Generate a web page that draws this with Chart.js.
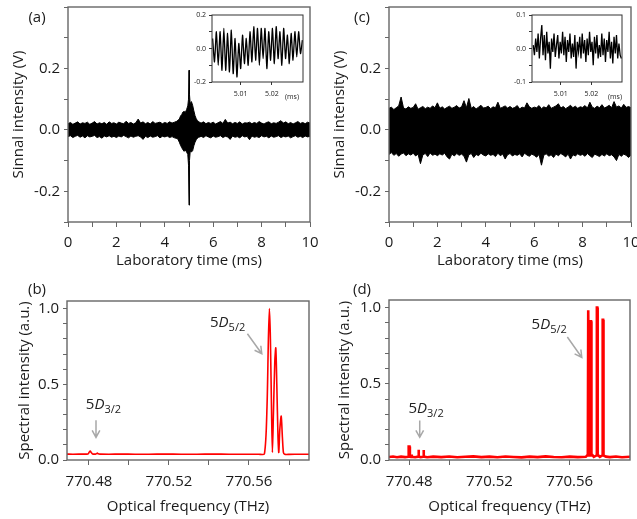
<!DOCTYPE html>
<html lang="en">
<head>
<meta charset="UTF-8">
<title>Signal and spectra</title>
<script src="https://cdn.jsdelivr.net/npm/chart.js"></script>
<style>
    body { margin: 0; background: #fff; }
    #wrap { position: relative; width: 637px; height: 519px; overflow: hidden; }
    #wrap canvas { position: absolute; }
</style>
</head>
<body>
<div id="wrap">
    <canvas id="chartA" width="318" height="280" style="left:0;top:0"></canvas>
    <canvas id="chartC" width="319" height="280" style="left:318px;top:0"></canvas>
    <canvas id="chartB" width="318" height="259" style="left:0;top:260px"></canvas>
    <canvas id="chartD" width="319" height="259" style="left:318px;top:260px"></canvas>
    <canvas id="insetA" width="127" height="100" style="left:185px;top:6px"></canvas>
    <canvas id="insetC" width="127" height="100" style="left:505px;top:6px"></canvas>
</div>

<script>
// ---------- data ----------

// (a) signal envelope, laboratory time in ms
const timeA = [0.0,0.1,0.2,0.3,0.4,0.5,0.6,0.7,0.8,0.9,
    1.0,1.1,1.2,1.3,1.4,1.5,1.6,1.7,1.8,1.9,
    2.0,2.1,2.2,2.3,2.4,2.5,2.6,2.7,2.8,2.9,
    3.0,3.1,3.2,3.3,3.4,3.5,3.6,3.7,3.8,3.9,
    4.0,4.1,4.2,4.3,4.4,4.5,
    4.55,4.6,4.65,4.7,4.75,4.8,4.85,4.9,4.95,4.98,5.0,5.02,5.05,5.1,5.15,5.2,5.25,5.3,5.35,5.4,5.45,
    5.5,5.6,5.7,5.8,5.9,
    6.0,6.1,6.2,6.3,6.4,6.5,6.6,6.7,6.8,6.9,
    7.0,7.1,7.2,7.3,7.4,7.5,7.6,7.7,7.8,7.9,
    8.0,8.1,8.2,8.3,8.4,8.5,8.6,8.7,8.8,8.9,
    9.0,9.1,9.2,9.3,9.4,9.5,9.6,9.7,9.8,9.9,
    10.0];
const upA = [0.020,0.024,0.018,0.022,0.026,0.019,0.023,0.021,0.025,0.018,
    0.022,0.027,0.019,0.023,0.020,0.024,0.018,0.026,0.021,0.023,
    0.019,0.025,0.022,0.020,0.028,0.021,0.024,0.019,0.023,0.035,
    0.022,0.026,0.020,0.024,0.019,0.027,0.021,0.023,0.025,0.020,
    0.024,0.021,0.026,0.022,0.025,0.028,
    0.032,0.035,0.045,0.050,0.058,0.060,0.057,0.066,0.078,0.100,0.194,0.115,0.085,0.092,0.080,0.062,0.046,0.036,0.030,0.027,0.024,
    0.022,0.026,0.020,0.024,0.021,
    0.025,0.019,0.023,0.027,0.021,0.034,0.022,0.025,0.020,0.024,
    0.021,0.026,0.019,0.023,0.022,0.025,0.020,0.024,0.021,0.027,
    0.022,0.019,0.024,0.026,0.020,0.023,0.021,0.025,0.030,0.022,
    0.026,0.020,0.024,0.019,0.023,0.027,0.021,0.024,0.020,0.025,
    0.022];
const loA = [-0.022,-0.019,-0.025,-0.021,-0.018,-0.024,-0.020,-0.026,-0.019,-0.023,
    -0.021,-0.018,-0.025,-0.022,-0.027,-0.020,-0.023,-0.019,-0.024,-0.021,
    -0.025,-0.020,-0.023,-0.018,-0.022,-0.026,-0.020,-0.024,-0.021,-0.019,
    -0.023,-0.031,-0.021,-0.025,-0.020,-0.024,-0.022,-0.019,-0.026,-0.021,
    -0.023,-0.020,-0.025,-0.022,-0.026,-0.028,
    -0.032,-0.040,-0.050,-0.058,-0.065,-0.070,-0.066,-0.072,-0.080,-0.115,-0.245,-0.100,-0.070,-0.072,-0.068,-0.052,-0.040,-0.032,-0.027,-0.024,-0.023,
    -0.021,-0.025,-0.019,-0.023,-0.026,
    -0.020,-0.024,-0.022,-0.019,-0.025,-0.021,-0.023,-0.031,-0.020,-0.024,
    -0.022,-0.026,-0.019,-0.023,-0.021,-0.032,-0.020,-0.024,-0.022,-0.025,
    -0.019,-0.023,-0.021,-0.026,-0.020,-0.024,-0.022,-0.019,-0.025,-0.021,
    -0.023,-0.020,-0.026,-0.022,-0.019,-0.024,-0.021,-0.025,-0.020,-0.023,
    -0.021];

// (c) signal envelope
const timeC = [0.0,0.1,0.2,0.3,0.4,0.5,0.6,0.7,0.8,0.9,
    1.0,1.1,1.2,1.3,1.4,1.5,1.6,1.7,1.8,1.9,
    2.0,2.1,2.2,2.3,2.4,2.5,2.6,2.7,2.8,2.9,
    3.0,3.1,3.2,3.3,3.4,3.5,3.6,3.7,3.8,3.9,
    4.0,4.1,4.2,4.3,4.4,4.5,4.6,4.7,4.8,4.9,
    5.0,5.1,5.2,5.3,5.4,5.5,5.6,5.7,5.8,5.9,
    6.0,6.1,6.2,6.3,6.4,6.5,6.6,6.7,6.8,6.9,
    7.0,7.1,7.2,7.3,7.4,7.5,7.6,7.7,7.8,7.9,
    8.0,8.1,8.2,8.3,8.4,8.5,8.6,8.7,8.8,8.9,
    9.0,9.1,9.2,9.3,9.4,9.5,9.6,9.7,9.8,9.9,
    10.0];
const upC = [0.070,0.074,0.066,0.072,0.078,0.107,0.071,0.068,0.075,0.070,
    0.073,0.085,0.067,0.072,0.076,0.069,0.074,0.070,0.078,0.072,
    0.088,0.070,0.075,0.068,0.073,0.077,0.070,0.074,0.079,0.071,
    0.075,0.095,0.072,0.102,0.070,0.076,0.068,0.074,0.080,0.071,
    0.073,0.077,0.069,0.075,0.072,0.090,0.070,0.074,0.078,0.071,
    0.076,0.070,0.073,0.079,0.068,0.074,0.071,0.088,0.075,0.070,
    0.074,0.072,0.079,0.069,0.075,0.071,0.082,0.070,0.074,0.078,
    0.085,0.071,0.076,0.069,0.074,0.080,0.072,0.077,0.070,0.075,
    0.073,0.079,0.071,0.090,0.074,0.070,0.077,0.072,0.082,0.071,
    0.075,0.080,0.072,0.092,0.074,0.078,0.071,0.083,0.073,0.076,
    0.072];
const loC = [-0.080,-0.074,-0.083,-0.077,-0.086,-0.079,-0.075,-0.084,-0.078,-0.082,
    -0.076,-0.085,-0.079,-0.110,-0.081,-0.077,-0.087,-0.075,-0.083,-0.079,
    -0.084,-0.078,-0.082,-0.076,-0.088,-0.095,-0.079,-0.085,-0.077,-0.083,
    -0.079,-0.086,-0.105,-0.081,-0.077,-0.090,-0.080,-0.084,-0.076,-0.082,
    -0.085,-0.078,-0.083,-0.080,-0.087,-0.076,-0.084,-0.079,-0.095,-0.081,
    -0.077,-0.085,-0.080,-0.083,-0.078,-0.088,-0.076,-0.082,-0.086,-0.079,
    -0.083,-0.089,-0.080,-0.115,-0.082,-0.078,-0.086,-0.081,-0.090,-0.079,
    -0.084,-0.077,-0.082,-0.088,-0.079,-0.095,-0.081,-0.085,-0.078,-0.083,
    -0.080,-0.086,-0.077,-0.084,-0.090,-0.079,-0.083,-0.087,-0.080,-0.085,
    -0.078,-0.084,-0.081,-0.088,-0.100,-0.080,-0.086,-0.079,-0.083,-0.090,
    -0.082];

// insets: zoom on the trace around 5 ms
const insetTimeA = [5.0010,5.0016,5.0022,5.0028,5.0034,5.0040,5.0046,5.0052,5.0058,5.0064,
    5.0070,5.0076,5.0082,5.0088,5.0094,5.0100,5.0106,5.0112,5.0118,5.0124,
    5.0130,5.0136,5.0142,5.0148,5.0154,5.0160,5.0166,5.0172,5.0178,5.0184,
    5.0190,5.0196,5.0202,5.0208,5.0214,5.0220,5.0226,5.0232,5.0238,5.0244,
    5.0250,5.0256,5.0262,5.0268,5.0274,5.0280,5.0286,5.0292,5.0298];
const insetSigA = [0.06,-0.08,0.10,-0.10,0.10,-0.13,0.12,-0.13,0.09,-0.14,
    0.11,-0.15,0.06,-0.17,0.03,-0.12,0.08,-0.09,0.06,-0.10,
    0.10,-0.08,0.13,-0.07,0.12,-0.10,0.12,-0.06,0.12,-0.12,
    0.10,-0.07,0.12,-0.09,0.13,-0.06,0.10,-0.10,0.12,-0.06,
    0.08,-0.09,0.09,-0.07,0.10,-0.05,0.10,-0.03,0.05];

const insetTimeC = [5.0010,5.0014,5.0018,5.0022,5.0026,5.0030,5.0034,5.0038,5.0042,5.0046,
    5.0050,5.0054,5.0058,5.0062,5.0066,5.0070,5.0074,5.0078,5.0082,5.0086,
    5.0090,5.0094,5.0098,5.0102,5.0106,5.0110,5.0114,5.0118,5.0122,5.0126,
    5.0130,5.0134,5.0138,5.0142,5.0146,5.0150,5.0154,5.0158,5.0162,5.0166,
    5.0170,5.0174,5.0178,5.0182,5.0186,5.0190,5.0194,5.0198,5.0202,5.0206,
    5.0210,5.0214,5.0218,5.0222,5.0226,5.0230,5.0234,5.0238,5.0242,5.0246,
    5.0250,5.0254,5.0258,5.0262,5.0266,5.0270,5.0274,5.0278,5.0282,5.0286,
    5.0290,5.0294,5.0298];
const insetSigC = [0.010,-0.020,0.030,-0.010,0.045,-0.030,0.030,0.070,-0.020,0.040,
    -0.035,0.050,-0.015,0.020,-0.060,0.030,-0.010,0.045,-0.025,0.010,
    0.040,-0.030,0.020,-0.015,0.050,-0.020,0.035,-0.040,0.025,-0.010,
    0.045,-0.030,0.015,-0.025,0.040,-0.060,0.020,-0.010,0.035,-0.030,
    0.045,-0.015,0.025,-0.040,0.030,-0.020,0.050,-0.010,0.020,-0.050,
    0.035,-0.015,0.040,-0.030,0.010,-0.025,0.045,-0.020,0.030,-0.040,
    0.025,-0.010,0.050,-0.030,0.020,-0.045,0.035,-0.015,0.040,-0.030,
    0.015,-0.020,-0.030];

// (b) spectrum, optical frequency in THz
const freqB = [770.469,770.472,770.476,770.4795,770.4801,770.4806,770.4811,770.4818,770.4832,770.4838,
    770.4842,770.4846,770.4855,770.490,770.496,770.503,770.510,770.518,770.526,770.534,
    770.542,770.550,770.558,770.5648,770.5677,770.5690,770.5697,770.5702,770.5707,770.5713,
    770.5717,770.5722,770.5729,770.5734,770.5739,770.5745,770.5749,770.5754,770.5761,770.5767,
    770.5772,770.5778,770.5800,770.5850,770.5900];
const specB = [0.039,0.038,0.039,0.040,0.052,0.059,0.050,0.040,0.039,0.042,
    0.046,0.041,0.039,0.038,0.039,0.038,0.038,0.039,0.038,0.038,
    0.039,0.038,0.038,0.038,0.040,0.350,0.800,1.000,0.800,0.300,
    0.050,0.300,0.650,0.740,0.500,0.150,0.050,0.200,0.290,0.150,
    0.050,0.038,0.037,0.038,0.038];

// (d) spectrum
const freqD = [770.470,770.472,770.474,770.476,770.478,770.4796,770.4798,770.4802,770.4804,770.4810,
    770.4812,770.4814,770.4830,770.4845,770.4847,770.4849,770.4858,770.4870,770.4872,770.4874,
    770.4890,770.492,770.496,770.500,770.504,770.508,770.512,770.516,770.520,770.524,
    770.528,770.532,770.536,770.540,770.544,770.548,770.552,770.556,770.560,770.564,
    770.5680,770.5690,770.5692,770.5694,770.5696,770.5702,770.5704,770.5706,770.5708,770.5720,
    770.5733,770.5735,770.5737,770.5739,770.5750,770.5762,770.5764,770.5766,770.5768,770.5780,
    770.580,770.583,770.586,770.590];
const specD = [0.020,0.023,0.018,0.022,0.019,0.021,0.088,0.088,0.022,0.020,
    0.036,0.021,0.018,0.022,0.068,0.022,0.019,0.021,0.066,0.022,
    0.018,0.022,0.019,0.023,0.018,0.021,0.024,0.019,0.022,0.018,
    0.023,0.020,0.017,0.022,0.019,0.024,0.020,0.018,0.022,0.019,
    0.021,0.035,0.982,0.982,0.030,0.030,0.910,0.910,0.040,0.021,
    0.030,1.000,1.000,0.035,0.020,0.030,0.920,0.920,0.030,0.022,
    0.019,0.023,0.018,0.021];

// ticks (all positions) and the ones that carry a label
const timeTicks = [0,1,2,3,4,5,6,7,8,9,10];
const timeLabels = [0,2,4,6,8,10];
const sigTicks = [-0.3,-0.2,-0.1,0,0.1,0.2,0.3,0.4];
const sigLabels = [-0.2,0,0.2];
const freqTicks = [770.48,770.50,770.52,770.54,770.56,770.58];
const freqLabels = [770.48,770.52,770.56];
const specTicks = [0,0.1,0.2,0.3,0.4,0.5,0.6,0.7,0.8,0.9,1.0];
const specLabels = [0,0.5,1.0];
const insetXTicks = [5.01,5.02];
const insetYTicksA = [-0.2,-0.1,0,0.1,0.2];
const insetYLabelsA = [-0.2,0,0.2];
const insetYTicksC = [-0.1,-0.05,0,0.05,0.1];
const insetYLabelsC = [-0.1,0,0.1];

// ---------- drawing ----------
const FONT = '"Open Sans", sans-serif';
const TXT = '#1a1a1a';
const FRAME = '#666666';
const ARROW = '#a8a8a8';
Chart.defaults.font.family = FONT;

function pts(xs, ys) {
    return xs.map(function (x, i) { return {x: x, y: ys[i]}; });
}

// scale with fixed ticks; only values in "labels" get text
function makeScale(o) {
    return {
        type: 'linear',
        min: o.min,
        max: o.max,
        border: {display: false},
        grid: {drawOnChartArea: false, drawTicks: true, tickLength: o.tickLen, color: o.tickColor, lineWidth: 1},
        ticks: {
            autoSkip: false,
            maxRotation: 0,
            padding: o.pad,
            color: TXT,
            font: {size: o.size},
            callback: function (v) {
                let hit = o.labels.some(function (l) { return Math.abs(l - v) < 1e-9; });
                return hit ? v.toFixed(o.dec) : '';
            }
        },
        title: o.title ? {display: true, text: o.title, color: TXT, font: {size: 15}, padding: o.titlePad} : {display: false},
        afterBuildTicks: function (s) {
            s.ticks = o.ticks.map(function (v) { return {value: v}; });
        },
        afterFit: function (s) {
            if (s.isHorizontal()) s.height = o.extent; else s.width = o.extent;
            s.paddingLeft = 0; s.paddingRight = 0; s.paddingTop = 0; s.paddingBottom = 0;
        }
    };
}

// 5D_j level label with the arrow pointing at the line
function drawNote(chart, n) {
    const ctx = chart.ctx;
    const xs = chart.scales.x, ys = chart.scales.y;
    let x = xs.getPixelForValue(n.tx), y = ys.getPixelForValue(n.ty);
    ctx.fillStyle = '#222';
    ctx.textBaseline = 'alphabetic';
    ctx.textAlign = 'left';
    ctx.font = '15px ' + FONT;
    ctx.fillText('5', x, y);
    x += ctx.measureText('5').width;
    ctx.font = 'italic 15px ' + FONT;
    ctx.fillText('D', x, y);
    x += ctx.measureText('D').width;
    ctx.font = '11px ' + FONT;
    ctx.fillText(n.sub, x, y + 4);

    let x1 = xs.getPixelForValue(n.ax1), y1 = ys.getPixelForValue(n.ay1);
    let x2 = xs.getPixelForValue(n.ax2), y2 = ys.getPixelForValue(n.ay2);
    let ang = Math.atan2(y2 - y1, x2 - x1);
    ctx.strokeStyle = ARROW;
    ctx.lineWidth = 1.5;
    ctx.beginPath();
    ctx.moveTo(x1, y1);
    ctx.lineTo(x2, y2);
    ctx.moveTo(x2 - 8 * Math.cos(ang - 0.5), y2 - 8 * Math.sin(ang - 0.5));
    ctx.lineTo(x2, y2);
    ctx.lineTo(x2 - 8 * Math.cos(ang + 0.5), y2 - 8 * Math.sin(ang + 0.5));
    ctx.stroke();
}

const decorPlugin = {
    id: 'decor',
    afterDraw: function (chart, args, o) {
        const ctx = chart.ctx, a = chart.chartArea;
        ctx.save();
        ctx.strokeStyle = o.frameColor;
        ctx.lineWidth = o.frameWidth;
        ctx.strokeRect(a.left, a.top, a.right - a.left, a.bottom - a.top);
        (o.texts || []).forEach(function (t) {
            ctx.fillStyle = TXT;
            ctx.font = t.font;
            ctx.textAlign = 'center';
            ctx.textBaseline = 'middle';
            ctx.fillText(t.text, t.x, t.y);
        });
        (o.notes || []).forEach(function (n) { drawNote(chart, n); });
        ctx.restore();
    }
};

function makeChart(id, box, datasets, xScale, yScale, decor) {
    return new Chart(document.getElementById(id), {
        type: 'line',
        data: {datasets: datasets},
        options: {
            responsive: false,
            animation: false,
            devicePixelRatio: 1,
            layout: {padding: {left: 0, top: box.top, right: box.w - box.right, bottom: 0}},
            plugins: {legend: {display: false}, tooltip: {enabled: false}, decor: decor},
            elements: {point: {radius: 0}},
            scales: {x: xScale, y: yScale}
        },
        plugins: [decorPlugin]
    });
}

function bandSets(xs, up, lo) {
    return [
        {data: pts(xs, up), borderColor: '#000', borderWidth: 1, fill: false},
        {data: pts(xs, lo), borderColor: '#000', borderWidth: 1, fill: '-1', backgroundColor: '#000'}
    ];
}

function timeAxis() {
    return makeScale({min: 0, max: 10, ticks: timeTicks, labels: timeLabels, dec: 0, size: 15,
        tickLen: 5, pad: 7, tickColor: FRAME, extent: 58, title: 'Laboratory time (ms)', titlePad: {top: 0, bottom: 10}});
}
function sigAxis(w, tp) {
    return makeScale({min: -0.3, max: 0.4, ticks: sigTicks, labels: sigLabels, dec: 1, size: 15,
        tickLen: 4, pad: 4, tickColor: FRAME, extent: w, title: 'Sinnal intensity (V)', titlePad: {top: tp, bottom: 0}});
}
function freqAxis(min) {
    return makeScale({min: min, max: 770.590, ticks: freqTicks, labels: freqLabels, dec: 2, size: 15,
        tickLen: 5, pad: 8, tickColor: FRAME, extent: 59, title: 'Optical frequency (THz)', titlePad: {top: 0, bottom: 3}});
}
function specAxis(w, tp) {
    return makeScale({min: 0, max: 1.05, ticks: specTicks, labels: specLabels, dec: 1, size: 15,
        tickLen: 4, pad: 4, tickColor: FRAME, extent: w, title: 'Spectral intensity (a.u.)', titlePad: {top: tp, bottom: 0}});
}

const mainDecor = {frameColor: FRAME, frameWidth: 1.4};

// (a)
makeChart('chartA', {w: 318, top: 7, right: 310}, bandSets(timeA, upA, loA),
    timeAxis(), sigAxis(68, 10),
    Object.assign({texts: [{text: '(a)', x: 37, y: 18, font: '15px ' + FONT}]}, mainDecor));

// (c)
makeChart('chartC', {w: 319, top: 7, right: 313}, bandSets(timeC, upC, loC),
    timeAxis(), sigAxis(71, 13),
    Object.assign({texts: [{text: '(c)', x: 44, y: 18, font: '15px ' + FONT}]}, mainDecor));

// (b)
makeChart('chartB', {w: 318, top: 41, right: 309},
    [{data: pts(freqB, specB), borderColor: '#ff0000', borderWidth: 1.6, fill: false, tension: 0.25}],
    freqAxis(770.469), specAxis(67, 16),
    Object.assign({
        texts: [{text: '(b)', x: 37, y: 30, font: '15px ' + FONT}],
        notes: [
            {sub: '5/2', tx: 770.5405, ty: 0.88, ax1: 770.5592, ay1: 0.834, ax2: 770.5664, ay2: 0.702},
            {sub: '3/2', tx: 770.4784, ty: 0.336, ax1: 770.4835, ay1: 0.263, ax2: 770.4835, ay2: 0.149}
        ]
    }, mainDecor));

// (d)
makeChart('chartD', {w: 319, top: 40, right: 312},
    [{data: pts(freqD, specD), borderColor: '#ff0000', borderWidth: 2.6, fill: false}],
    freqAxis(770.470), specAxis(71, 18),
    Object.assign({
        texts: [{text: '(d)', x: 44, y: 30, font: '15px ' + FONT}],
        notes: [
            {sub: '5/2', tx: 770.5410, ty: 0.862, ax1: 770.5588, ay1: 0.807, ax2: 770.5660, ay2: 0.673},
            {sub: '3/2', tx: 770.4797, ty: 0.309, ax1: 770.4853, ay1: 0.259, ax2: 770.4853, ay2: 0.149}
        ]
    }, mainDecor));

// insets
function insetX(min) {
    return makeScale({min: min, max: 5.030, ticks: insetXTicks, labels: insetXTicks, dec: 2, size: 7,
        tickLen: 3, pad: 5, tickColor: '#333', extent: 24});
}
function insetY(lim, ticks, labels) {
    return makeScale({min: -lim, max: lim, ticks: ticks, labels: labels, dec: 1, size: 7,
        tickLen: 3, pad: 3, tickColor: '#333', extent: 27});
}
const insetDecor = {frameColor: '#333', frameWidth: 1};

makeChart('insetA', {w: 127, top: 9, right: 118},
    [{data: pts(insetTimeA, insetSigA), borderColor: '#000', borderWidth: 1.3, fill: false, tension: 0.2}],
    insetX(5.0008), insetY(0.2, insetYTicksA, insetYLabelsA),
    Object.assign({texts: [{text: '(ms)', x: 107, y: 91, font: '7px ' + FONT}]}, insetDecor));

makeChart('insetC', {w: 127, top: 9, right: 117},
    [{data: pts(insetTimeC, insetSigC), borderColor: '#000', borderWidth: 1.3, fill: false}],
    insetX(5.0006), insetY(0.1, insetYTicksC, insetYLabelsC),
    Object.assign({texts: [{text: '(ms)', x: 110, y: 91, font: '7px ' + FONT}]}, insetDecor));
</script>
</body>
</html>
